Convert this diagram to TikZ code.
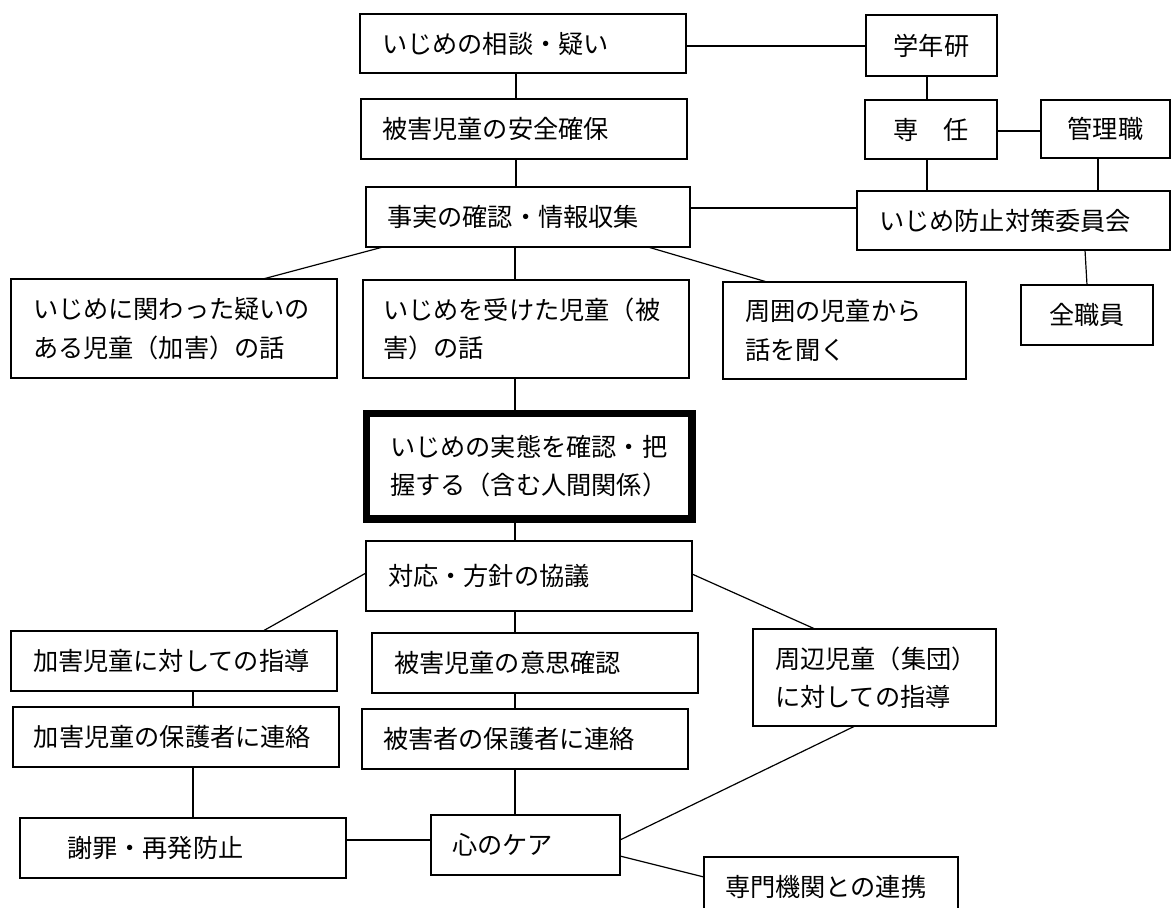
\documentclass[tikz,border=0pt]{standalone}
\usepackage{fontspec}
\setmainfont{Noto Sans CJK JP}
\begin{document}
\begin{tikzpicture}[x=1pt,y=-1pt,
  every node/.style={font=\fontsize{25.2pt}{38.5pt}\selectfont},
  box/.style={draw, line width=1.2pt, inner ysep=0pt, outer sep=0pt, align=left, anchor=north west},
  cbox/.style={draw, line width=1.2pt, inner sep=0pt, outer sep=0pt, align=center, anchor=north west},
  thickbox/.style={draw, line width=7.5pt, inner ysep=0pt, outer sep=0pt, align=left, anchor=north west},
  conn/.style={line width=1.2pt}]
\useasboundingbox (0,0) rectangle (1171,908);
% top chain
\node[box, minimum width=326pt, minimum height=59pt, text width=282pt, inner xsep=22pt] (sodan) at (360,14) {いじめの相談・疑い};
\node[box, minimum width=326pt, minimum height=60pt, text width=284pt, inner xsep=21pt] (anzen) at (361,99) {被害児童の安全確保};
\node[box, minimum width=324pt, minimum height=60pt, text width=282pt, inner xsep=21pt] (jijitsu) at (366,187) {事実の確認・情報収集};
% right column
\node[cbox, minimum width=131pt, minimum height=61pt] (gakunen) at (866,15) {学年研};
\node[cbox, minimum width=132pt, minimum height=59pt] (sennin) at (865,100) {専　任};
\node[cbox, minimum width=129pt, minimum height=58pt] (kanri) at (1041,100) {管理職};
\node[box, minimum width=313pt, minimum height=59pt, text width=269pt, inner xsep=22pt] (iinkai) at (857,191) {いじめ防止対策委員会};
\node[cbox, minimum width=132pt, minimum height=60pt] (zenshoku) at (1021,285) {全職員};
% hearing row
\node[box, minimum width=326pt, minimum height=99pt, text width=282pt, inner xsep=22pt] (kakawatta) at (11,279) {いじめに関わった疑いの\\ある児童（加害）の話};
\node[box, minimum width=326pt, minimum height=98pt, text width=286pt, inner xsep=20pt] (uketa) at (363,280) {いじめを受けた児童（被\\害）の話};
\node[box, minimum width=243pt, minimum height=97pt, text width=199pt, inner xsep=22pt] (shuui) at (723,282) {周囲の児童から\\話を聞く};
% central thick box
\node[thickbox, minimum width=325.5pt, minimum height=105.5pt, text width=278.5pt, inner xsep=23.5pt] (jittai) at (366.5,413.5) {いじめの実態を確認・把\\握する（含む人間関係）};
% response
\node[box, minimum width=326pt, minimum height=70pt, text width=282pt, inner xsep=22pt] (taiou) at (366,541) {対応・方針の協議};
\node[box, minimum width=326pt, minimum height=60pt, text width=282pt, inner xsep=22pt] (ishi) at (372,633) {被害児童の意思確認};
\node[box, minimum width=326pt, minimum height=60pt, text width=284pt, inner xsep=21pt] (higaihogo) at (362,709) {被害者の保護者に連絡};
\node[box, minimum width=326pt, minimum height=60pt, text width=282pt, inner xsep=22pt] (kagaishido) at (11,631) {加害児童に対しての指導};
\node[box, minimum width=326pt, minimum height=60pt, text width=284pt, inner xsep=21pt] (kagaihogo) at (13,707) {加害児童の保護者に連絡};
\node[box, minimum width=326pt, minimum height=60pt, text width=232pt, inner xsep=47pt] (shazai) at (20,818) {謝罪・再発防止};
\node[box, minimum width=189pt, minimum height=60pt, text width=147pt, inner xsep=21pt] (care) at (431,815) {心のケア};
\node[box, minimum width=243pt, minimum height=97pt, text width=199pt, inner xsep=22pt] (shuhen) at (753,629) {周辺児童（集団）\\に対しての指導};
\node[box, minimum width=254pt, minimum height=60pt, text width=212pt, inner xsep=21pt] (senmon) at (704,857) {専門機関との連携};
% connectors
\draw[conn] (sodan.east |- 0,46) -- (gakunen.west |- 0,46);
\draw[conn] (sodan.south -| 516,0) -- (anzen.north -| 516,0);
\draw[conn] (anzen.south -| 516,0) -- (jijitsu.north -| 516,0);
\draw[conn] (jijitsu.east |- 0,208) -- (iinkai.west |- 0,208);
\draw[conn] (gakunen.south -| 927,0) -- (sennin.north -| 927,0);
\draw[conn] (sennin.east |- 0,131) -- (kanri.west |- 0,131);
\draw[conn] (sennin.south -| 927,0) -- (iinkai.north -| 927,0);
\draw[conn] (kanri.south -| 1098,0) -- (iinkai.north -| 1098,0);
\draw[conn] (iinkai.south -| 1085,0) -- (zenshoku.north -| 1087,0);
\draw[conn] (jijitsu.south -| 383,0) -- (kakawatta.north -| 263,0);
\draw[conn] (jijitsu.south -| 515,0) -- (uketa.north -| 515,0);
\draw[conn] (jijitsu.south -| 648,0) -- (shuui.north -| 767,0);
\draw[conn] (uketa.south -| 515,0) -- (jittai.north -| 515,0);
\draw[conn] (jittai.south -| 515,0) -- (taiou.north -| 515,0);
\draw[conn] (taiou.west |- 0,573) -- (kagaishido.north -| 263,0);
\draw[conn] (taiou.east |- 0,574) -- (shuhen.north -| 815,0);
\draw[conn] (taiou.south -| 515,0) -- (ishi.north -| 515,0);
\draw[conn] (ishi.south -| 515,0) -- (higaihogo.north -| 515,0);
\draw[conn] (kagaishido.south -| 193,0) -- (kagaihogo.north -| 193,0);
\draw[conn] (kagaihogo.south -| 193,0) -- (shazai.north -| 193,0);
\draw[conn] (shazai.east |- 0,840) -- (care.west |- 0,840);
\draw[conn] (higaihogo.south -| 515,0) -- (care.north -| 515,0);
\draw[conn] (care.east |- 0,840) -- (shuhen.south -| 855,0);
\draw[conn] (care.east |- 0,856) -- (senmon.west |- 0,877);
\end{tikzpicture}
\end{document}
